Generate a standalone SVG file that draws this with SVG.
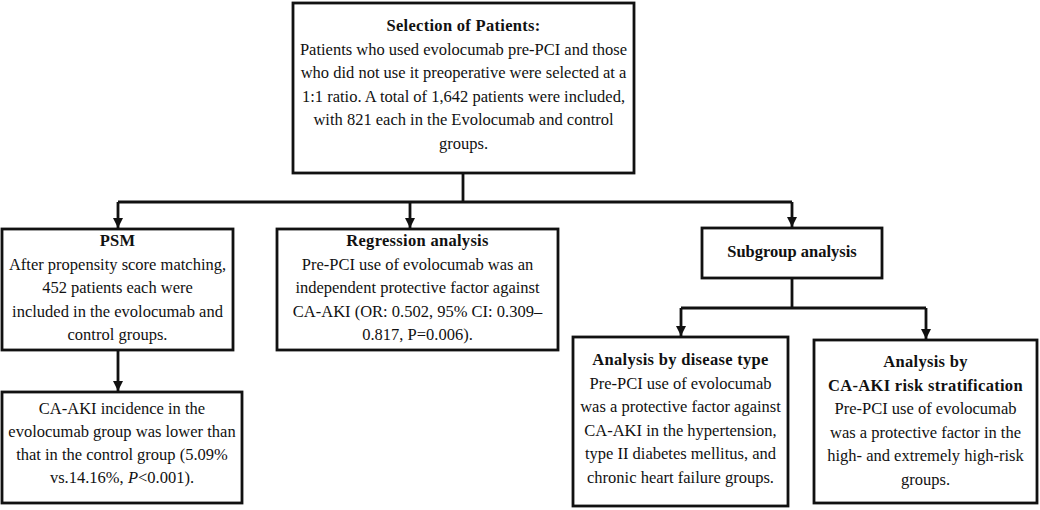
<svg xmlns="http://www.w3.org/2000/svg" width="1040" height="510" viewBox="0 0 1040 510">
<style>
.box{fill:#fff;stroke:#111;stroke-width:2.8}
.t{font-family:"Liberation Serif","Times New Roman",serif;font-size:16.5px;fill:#111;text-anchor:middle}
.b{font-weight:bold;letter-spacing:0.3px}
.c{fill:none;stroke:#111;stroke-width:2.8}
</style>
<defs>
<marker id="ah" markerWidth="10" markerHeight="10" refX="10" refY="5" orient="auto" markerUnits="userSpaceOnUse">
<path d="M0,0 L10,5 L0,10 Z" fill="#111"/>
</marker>
</defs>
<g id="connectors">
<path class="c" d="M463,173 V202"/>
<path class="c" d="M118,202 H792"/>
<path class="c" d="M118,202 V228" marker-end="url(#ah)"/>
<path class="c" d="M410,202 V228" marker-end="url(#ah)"/>
<path class="c" d="M792,202 V227" marker-end="url(#ah)"/>
<path class="c" d="M118,350 V391" marker-end="url(#ah)"/>
<path class="c" d="M792,278 V308"/>
<path class="c" d="M681,308 H926"/>
<path class="c" d="M681,308 V336" marker-end="url(#ah)"/>
<path class="c" d="M926,308 V339" marker-end="url(#ah)"/>
</g>
<g id="selection">
<rect class="box" x="293" y="3" width="341" height="170"/>
<text class="t b" x="463.5" y="31">Selection of Patients:</text>
<text class="t" x="463.5" y="54.5">Patients who used evolocumab pre-PCI and those</text>
<text class="t" x="463.5" y="78">who did not use it preoperative were selected at a</text>
<text class="t" x="463.5" y="101.5">1:1 ratio. A total of 1,642 patients were included,</text>
<text class="t" x="463.5" y="125">with 821 each in the Evolocumab and control</text>
<text class="t" x="463.5" y="148.5">groups.</text>
</g>
<g id="psm">
<rect class="box" x="2" y="229" width="231" height="121"/>
<text class="t b" x="117.5" y="246">PSM</text>
<text class="t" x="117.5" y="269.5">After propensity score matching,</text>
<text class="t" x="117.5" y="293">452 patients each were</text>
<text class="t" x="117.5" y="316.5">included in the evolocumab and</text>
<text class="t" x="117.5" y="340">control groups.</text>
</g>
<g id="regression">
<rect class="box" x="277" y="229" width="281" height="121"/>
<text class="t b" x="417.5" y="246">Regression analysis</text>
<text class="t" x="417.5" y="269.5">Pre-PCI use of evolocumab was an</text>
<text class="t" x="417.5" y="293">independent protective factor against</text>
<text class="t" x="417.5" y="316.5">CA-AKI (OR: 0.502, 95% CI: 0.309–</text>
<text class="t" x="417.5" y="340">0.817, P=0.006).</text>
</g>
<g id="subgroup">
<rect class="box" x="702" y="228" width="180" height="50"/>
<text class="t" x="792" y="257" font-weight="bold">Subgroup analysis</text>
</g>
<g id="incidence">
<rect class="box" x="2" y="392" width="240" height="111"/>
<text class="t" x="122" y="414">CA-AKI incidence in the</text>
<text class="t" x="122" y="437">evolocumab group was lower than</text>
<text class="t" x="122" y="460">that in the control group (5.09%</text>
<text class="t" x="122" y="483">vs.14.16%, <tspan font-style="italic">P</tspan>&lt;0.001).</text>
</g>
<g id="disease">
<rect class="box" x="573" y="337" width="215" height="169"/>
<text class="t b" x="680.5" y="365">Analysis by disease type</text>
<text class="t" x="680.5" y="388.5">Pre-PCI use of evolocumab</text>
<text class="t" x="680.5" y="412">was a protective factor against</text>
<text class="t" x="680.5" y="435.5">CA-AKI in the hypertension,</text>
<text class="t" x="680.5" y="459">type II diabetes mellitus, and</text>
<text class="t" x="680.5" y="482.5">chronic heart failure groups.</text>
</g>
<g id="risk">
<rect class="box" x="814" y="340" width="223" height="163"/>
<text class="t b" x="925.5" y="367">Analysis by</text>
<text class="t b" x="925.5" y="390.5">CA-AKI risk stratification</text>
<text class="t" x="925.5" y="414">Pre-PCI use of evolocumab</text>
<text class="t" x="925.5" y="437.5">was a protective factor in the</text>
<text class="t" x="925.5" y="461">high- and extremely high-risk</text>
<text class="t" x="925.5" y="484.5">groups.</text>
</g>
</svg>
